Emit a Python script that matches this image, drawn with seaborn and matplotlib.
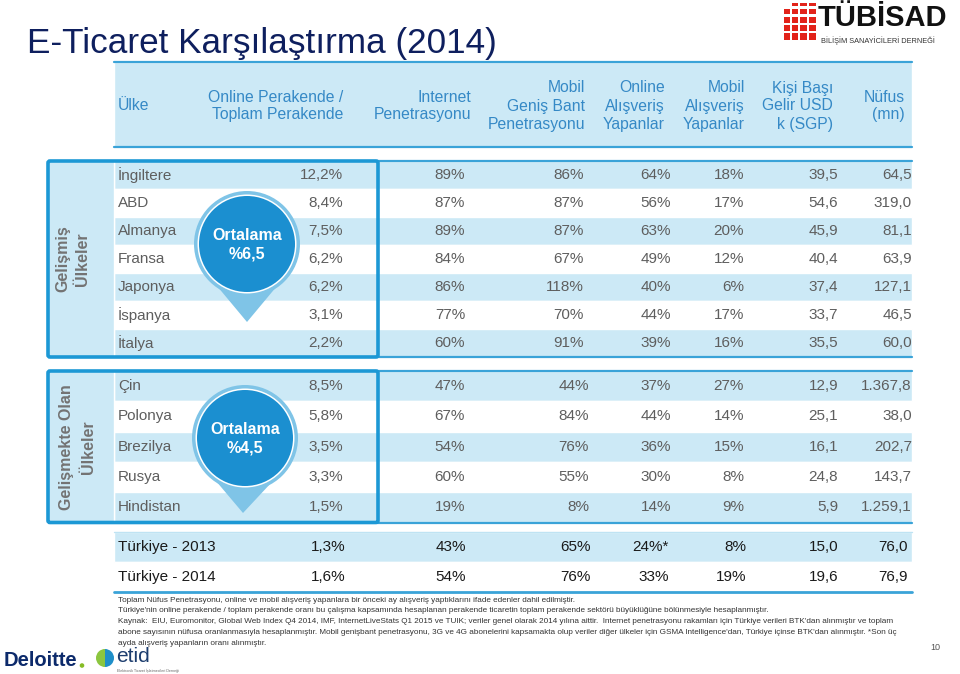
import matplotlib
matplotlib.use("Agg")
import matplotlib.pyplot as plt
from matplotlib import patches, font_manager
import seaborn as sns

sns.set_theme(style="white")
_names = {f.name for f in font_manager.fontManager.ttflist}
REG = 'Liberation Sans' if 'Liberation Sans' in _names else 'DejaVu Sans'
NARROW_OK = 'Liberation Sans Narrow' in _names
NAR = 'Liberation Sans Narrow' if NARROW_OK else REG
plt.rcParams['font.family'] = [REG, 'DejaVu Sans']

# ---------------- data ----------------
title = "E-Ticaret Karşılaştırma (2014)"
header_first = "Ülke"
header_cols = [
    ["Online Perakende /", "Toplam Perakende"],
    ["Internet", "Penetrasyonu"],
    ["Mobil", "Geniş Bant", "Penetrasyonu"],
    ["Online", "Alışveriş", "Yapanlar"],
    ["Mobil", "Alışveriş", "Yapanlar"],
    ["Kişi Başı", "Gelir USD", "k (SGP)"],
    ["Nüfus", "(mn)"],
]

dev_label = ["Gelişmiş", "Ülkeler"]
dev_countries = ["İngiltere", "ABD", "Almanya", "Fransa", "Japonya", "İspanya", "İtalya"]
dev_online_retail = [12.2, 8.4, 7.5, 6.2, 6.2, 3.1, 2.2]
dev_internet = [89, 87, 89, 84, 86, 77, 60]
dev_mobile_bb = [86, 87, 87, 67, 118, 70, 91]
dev_online_shop = [64, 56, 63, 49, 40, 44, 39]
dev_mobile_shop = [18, 17, 20, 12, 6, 17, 16]
dev_income = [39.5, 54.6, 45.9, 40.4, 37.4, 33.7, 35.5]
dev_population = [64.5, 319.0, 81.1, 63.9, 127.1, 46.5, 60.0]
dev_average = 6.5

emg_label = ["Gelişmekte Olan", "Ülkeler"]
emg_countries = ["Çin", "Polonya", "Brezilya", "Rusya", "Hindistan"]
emg_online_retail = [8.5, 5.8, 3.5, 3.3, 1.5]
emg_internet = [47, 67, 54, 60, 19]
emg_mobile_bb = [44, 84, 76, 55, 8]
emg_online_shop = [37, 44, 36, 30, 14]
emg_mobile_shop = [27, 14, 15, 8, 9]
emg_income = [12.9, 25.1, 16.1, 24.8, 5.9]
emg_population = [1367.8, 38.0, 202.7, 143.7, 1259.1]
emg_average = 4.5

tr_rows = ["Türkiye - 2013", "Türkiye - 2014"]
tr_online_retail = [1.3, 1.6]
tr_internet = [43, 54]
tr_mobile_bb = [65, 76]
tr_online_shop = [24, 33]
tr_online_shop_note = ["*", ""]
tr_mobile_shop = [8, 19]
tr_income = [15.0, 19.6]
tr_population = [76.0, 76.9]

footnotes = [
    "Toplam Nüfus Penetrasyonu, online ve mobil alışveriş yapanlara bir önceki ay alışveriş yaptıklarını ifade edenler dahil edilmiştir.",
    "Türkiye'nin online perakende / toplam perakende oranı bu çalışma kapsamında hesaplanan perakende ticaretin toplam perakende sektörü büyüklüğüne bölünmesiyle hesaplanmıştır.",
    "Kaynak:  EIU, Euromonitor, Global Web Index Q4 2014, IMF, InternetLiveStats Q1 2015 ve TUIK; veriler genel olarak 2014 yılına aittir.  Internet penetrasyonu rakamları için Türkiye verileri BTK'dan alınmıştır ve toplam",
    "abone sayısının nüfusa oranlanmasıyla hesaplanmıştır. Mobil genişbant penetrasyonu, 3G ve 4G abonelerini kapsamakta olup veriler diğer ülkeler için GSMA Intelligence'dan, Türkiye içinse BTK'dan alınmıştır. *Son üç",
    "ayda alışveriş yapanların oranı alınmıştır.",
]
page_number = "10"


# ---------------- helpers ----------------
def pct1(v):
    return f"{v:.1f}".replace(".", ",") + "%"


def pct0(v):
    return f"{v:.0f}%"


def num1(v):
    return f"{v:,.1f}".replace(",", "X").replace(".", ",").replace("X", ".")


LIGHT = "#cce9f6"
BORDER = "#1c98d5"
LINE = "#3aa3d8"
HEAD_TXT = "#3589c6"
GRAY_TXT = "#5e5e5e"
NAVY = "#0e1f5e"

fig = plt.figure(figsize=(9.6, 6.74), dpi=100)
ax = fig.add_axes([0, 0, 1, 1])
ax.set_xlim(0, 960)
ax.set_ylim(674, 0)
ax.axis("off")

# title
ax.text(27, 44, title, fontsize=25.3, color=NAVY, ha="left", va="center")

# header band
ax.barh([104.5], [798], left=114, height=85, color=LIGHT, zorder=1)
ax.plot([114, 912], [62, 62], color=LINE, lw=1.6, zorder=2)
ax.plot([114, 912], [147, 147], color=LINE, lw=1.6, zorder=2)
ax.text(118, 106, header_first, fontsize=11.3, color=HEAD_TXT, ha="left", va="center")
head_right = [343, 471, 585, 665, 745, 833, 905]
for lines, xr in zip(header_cols, head_right):
    n = len(lines)
    y0 = 106 - (n - 1) * 9
    for i, ln in enumerate(lines):
        ax.text(xr, y0 + i * 18, ln, fontsize=11.3, color=HEAD_TXT, ha="right", va="center")


def draw_section(top, step, countries, cols, label, average, circ, tip, lab_xs, col_right):
    n = len(countries)
    ys = [top + step * (i + 0.5) for i in range(n)]
    bottom = top + step * n
    colors = [LIGHT if i % 2 == 0 else "white" for i in range(n)]
    ax.barh(ys, [798] * n, left=114, height=step, color=colors, zorder=1)
    # left label area
    ax.barh([(top + bottom) / 2], [66], left=48, height=bottom - top, color=LIGHT, zorder=1)
    # outside lines
    ax.plot([378, 912], [top, top], color=LINE, lw=1.6, zorder=2)
    ax.plot([378, 912], [bottom, bottom], color=LINE, lw=1.6, zorder=2)
    # box
    box = patches.FancyBboxPatch((48, top), 330, bottom - top,
                                 boxstyle="round,pad=0,rounding_size=2",
                                 fill=False, ec=BORDER, lw=2.6, zorder=5)
    ax.add_patch(box)
    for lx, ln in zip(lab_xs, label):
        ax.text(lx, (top + bottom) / 2, ln, rotation=90, fontsize=11.5,
                fontweight="bold", color="#737373", ha="center", va="center", zorder=6)
    for y, c in zip(ys, countries):
        ax.text(118, y, c, fontsize=11, color=GRAY_TXT, ha="left", va="center", zorder=3)
    for col, xr in zip(cols, col_right):
        for y, s in zip(ys, col):
            ax.text(xr, y, s, fontsize=11, color=GRAY_TXT, ha="right", va="center", zorder=3)
    # callout
    cx, cy = circ
    tri = patches.Polygon([(cx - 40, cy + 30), (cx + 40, cy + 30), tip], closed=True,
                          fc="#7fc4e7", ec="none", zorder=7)
    ax.add_patch(tri)
    ax.add_patch(patches.Circle((cx, cy), 53, fc="#7fc4e7", ec="none", zorder=7))
    ax.add_patch(patches.Circle((cx, cy), 49.5, fc="white", ec="none", zorder=8))
    ax.add_patch(patches.Circle((cx, cy), 48, fc="#1b8fd0", ec="none", zorder=9))
    ax.text(cx, cy - 9, "Ortalama", fontsize=11.5, fontweight="bold", color="white",
            ha="center", va="center", zorder=10)
    ax.text(cx, cy + 10, "%" + f"{average:.1f}".replace(".", ","), fontsize=11.5,
            fontweight="bold", color="white", ha="center", va="center", zorder=10)


dev_cols = [[pct1(v) for v in dev_online_retail], [pct0(v) for v in dev_internet],
            [pct0(v) for v in dev_mobile_bb], [pct0(v) for v in dev_online_shop],
            [pct0(v) for v in dev_mobile_shop], [num1(v) for v in dev_income],
            [num1(v) for v in dev_population]]
emg_cols = [[pct1(v) for v in emg_online_retail], [pct0(v) for v in emg_internet],
            [pct0(v) for v in emg_mobile_bb], [pct0(v) for v in emg_online_shop],
            [pct0(v) for v in emg_mobile_shop], [num1(v) for v in emg_income],
            [num1(v) for v in emg_population]]

draw_section(161, 28, dev_countries, dev_cols, dev_label, dev_average,
             (247, 244), (247, 322), [63, 83], [343, 465, 584, 671, 744, 838, 912])
draw_section(371, 30.3, emg_countries, emg_cols, emg_label, emg_average,
             (245, 438), (243, 513), [66, 89], [343, 465, 589, 671, 744, 838, 912])

# Turkey rows
tr_cols = [[pct1(v) for v in tr_online_retail], [pct0(v) for v in tr_internet],
           [pct0(v) for v in tr_mobile_bb],
           [pct0(v) + nt for v, nt in zip(tr_online_shop, tr_online_shop_note)],
           [pct0(v) for v in tr_mobile_shop], [num1(v) for v in tr_income],
           [num1(v) for v in tr_population]]
tr_ys = [547, 577]
ax.barh(tr_ys, [798, 798], left=114, height=30, color=[LIGHT, "white"], zorder=1)
ax.plot([114, 912], [532, 532], color="#bfe3f3", lw=1.0, zorder=2)
ax.plot([114, 912], [592, 592], color=LINE, lw=2.0, zorder=2)
tr_fs = 13.2 if NARROW_OK else 11
for y, r in zip(tr_ys, tr_rows):
    ax.text(118, y, r, fontsize=tr_fs, family=[NAR, 'DejaVu Sans'], color="#1a1a1a",
            ha="left", va="center", zorder=3)
for col, xr in zip(tr_cols, [345, 466, 591, 669, 746, 838, 908]):
    for y, s in zip(tr_ys, col):
        ax.text(xr, y, s, fontsize=tr_fs, family=[NAR, 'DejaVu Sans'], color="#1a1a1a",
                ha="right", va="center", zorder=3)

# footnotes
fn_fs = 7.3 if NARROW_OK else 5.9
for i, t in enumerate(footnotes):
    ax.text(118, 600 + i * 10.8, t, fontsize=fn_fs, family=[NAR, 'DejaVu Sans'],
            color="#333333", ha="left", va="center")
ax.text(935, 648, page_number, fontsize=6.5, color="#555555", ha="center", va="center")

# TÜBİSAD logo
ax.text(818, 18, "TÜBİSAD", fontsize=26 if NARROW_OK else 21, fontweight="bold",
        family=[NAR, 'DejaVu Sans'], color="#111111", ha="left", va="center")
ax.text(821, 41, "BİLİŞİM SANAYİCİLERİ DERNEĞİ", fontsize=5.3, color="#333333",
        ha="left", va="center")
red_cols = [(784, 6), (792, 6), (800, 7), (809, 7)]
red_rows = [(3, 3), (9, 5), (17, 6), (25, 6), (33, 7)]
for ci, (x0, w) in enumerate(red_cols):
    for ri, (y0, h) in enumerate(red_rows):
        if ci + ri < 1:
            continue
        ax.add_patch(patches.Rectangle((x0, y0), w, h, fc="#e2231a", ec="none"))

# Deloitte / etid logos
ax.text(4, 660, "Deloitte", fontsize=14.5, fontweight="bold", color="#0c2a6b",
        ha="left", va="center")
ax.add_patch(patches.Circle((82, 665.5), 2.3, fc="#86bc25", ec="none"))
ax.add_patch(patches.Wedge((105, 658), 9, 90, 270, fc="#8cc63f", ec="none"))
ax.add_patch(patches.Wedge((105, 658), 9, -90, 90, fc="#1f8fc9", ec="none"))
ax.text(116, 657, "etid", fontsize=15, color="#1d3d6e", ha="left", va="center")
ax.text(117, 671, "Elektronik Ticaret İşletmecileri Derneği", fontsize=2.6,
        color="#666666", ha="left", va="center")

fig.savefig("out.png", dpi=100)
